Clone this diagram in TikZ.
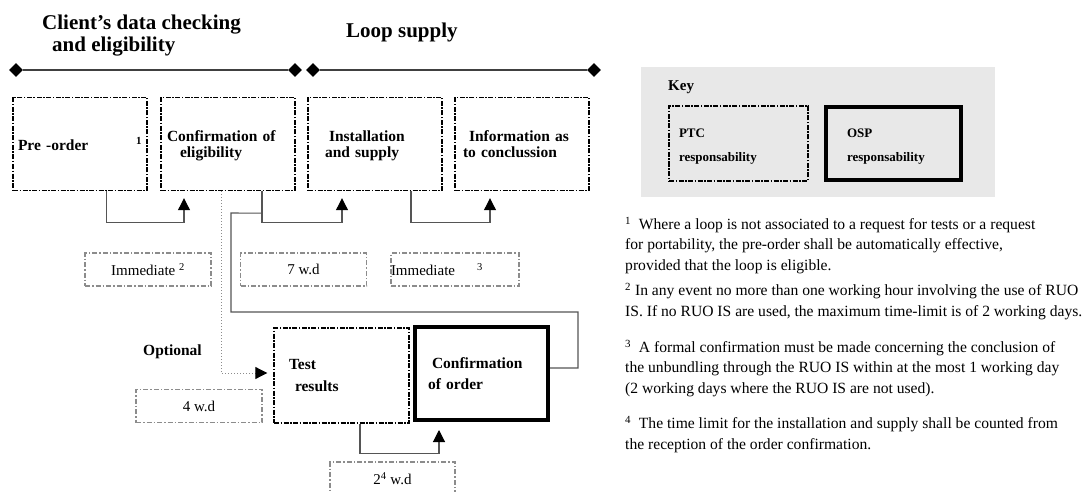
\documentclass[tikz,border=0pt]{standalone}
\usepackage{fontspec}
\setmainfont{Liberation Serif}
\usetikzlibrary{arrows.meta,shapes.geometric,calc}
\definecolor{keygrey}{HTML}{E8E8E8}
\definecolor{linegrey}{HTML}{555555}
\definecolor{boxgrey}{HTML}{8C8C8C}
\tikzset{
  ptc/.style={draw, dash pattern=on 5pt off 1.5pt on 1.5pt off 1.5pt, line width=1.4pt, minimum width=134pt, minimum height=93pt, inner sep=0pt, align=left, font=\fontsize{15.5}{16}\selectfont\bfseries},
  osp/.style={draw, line width=4pt, minimum width=133pt, minimum height=93pt, inner sep=0pt, align=left, font=\fontsize{15.5}{21}\selectfont\bfseries},
  timebox/.style={draw=boxgrey, dash pattern=on 5pt off 2pt on 1.5pt off 2pt, line width=1.2pt, minimum width=126pt, minimum height=33pt, inner sep=0pt, font=\fontsize{15}{17}\selectfont},
  milestone/.style={diamond, fill=black, minimum width=14pt, minimum height=14pt, inner sep=0pt},
  title/.style={font=\fontsize{21}{22}\selectfont\bfseries, align=left, inner sep=0pt, anchor=base west},
  fn/.style={font=\fontsize{15.6}{20.3}\selectfont, align=left, inner sep=0pt, anchor=base west},
  link/.style={linegrey, line width=1.1pt},
  dotlink/.style={boxgrey, line width=1pt, dotted},
  tip/.style={-{Triangle[length=12pt,width=12pt,color=black]}, shorten >=7pt}
}
\begin{document}
\begin{tikzpicture}[x=1pt,y=-1pt]
\useasboundingbox (0,0) rectangle (1085,492);
\node[title] (phase1) at (42,52) {Client’s data checking\\\hspace*{10pt}and eligibility};
\node[title] (phase2) at (346,38) {Loop supply};
\node[milestone] (d1) at (16,70) {};
\node[milestone] (d2) at (295,70) {};
\node[milestone] (d3) at (313,70) {};
\node[milestone] (d4) at (594,70) {};
\draw[black!75, line width=1.4pt] (d1) -- (d2);
\draw[black!75, line width=1.4pt] (d3) -- (d4);
\node[ptc, text width=124pt] (1) at (80,144) {Pre -order\hfill\textsuperscript{1}};
\node[ptc, text width=122pt, text depth=15pt] (2) at (228,144) {Confirmation of\\\hspace*{13pt}eligibility};
\node[ptc, text width=100pt, text depth=15pt] (3) at (375,144) {\hspace*{4pt}Installation\\and supply};
\node[ptc, text width=118pt, text depth=15pt] (4) at (522,144) {\hspace*{6pt}Information as\\to conclussion};
\node[ptc, text width=105pt, minimum width=135pt, minimum height=95pt, font=\fontsize{15.5}{22}\selectfont\bfseries] (5) at (341.5,375.5) {Test\\\hspace*{6pt}results};
\node[osp, text width=107pt] (6) at (481.5,373.5) {\hspace*{4pt}Confirmation\\of order};
\node[timebox] (t1) at (148,269.5) {Immediate \textsuperscript{2}};
\node[timebox] (t2) at (303.5,269.5) {7 w.d};
\node[timebox, text width=128pt, align=left] (t3) at (455,269.5) {Immediate\hspace{22pt}\textsuperscript{3}};
\node[timebox] (t4) at (199,406) {4 w.d};
\node[timebox, minimum width=125pt, minimum height=34pt] (t5) at (392.5,479) {2\textsuperscript{4} w.d};
\node[font=\fontsize{15.5}{17}\selectfont\bfseries, anchor=base west, inner sep=0pt] (opt) at (143,355) {Optional};
\draw[link, tip] ([xshift=26.5pt]1.south) -- ++(0,31) -| ([xshift=-44pt]2.south);
\draw[link, tip] ([xshift=34pt]2.south) -- ++(0,31) -| ([xshift=-33pt]3.south);
\draw[link, tip] ([xshift=36pt]3.south) -- ++(0,31) -| ([xshift=-32pt]4.south);
\draw[link] ([yshift=5.5pt]6.east) -| (578,312) -| (231,213) -- ([xshift=34pt,yshift=-22pt]2.south);
\draw[dotlink, tip, shorten >=6pt] ([xshift=-7pt]2.south) |- ([yshift=2.5pt]5.west);
\draw[link, tip, shorten >=8pt] ([xshift=18.5pt]5.south) -- ++(0,30) -| ([xshift=-42.5pt]6.south);
% key
\fill[keygrey] (641,67) rectangle (995,197);
\node[font=\fontsize{15}{17}\selectfont\bfseries, anchor=base west, inner sep=0pt] (key) at (668,91) {Key};
\node[ptc, minimum width=139pt, minimum height=75pt, text width=119pt, text depth=21pt, font=\fontsize{13}{24}\selectfont\bfseries] (k1) at (738.5,143.5) {PTC\\responsability};
\node[osp, minimum width=135pt, minimum height=73pt, text width=93pt, text depth=21pt, font=\fontsize{13}{24}\selectfont\bfseries] (k2) at (893.5,143.5) {OSP\\responsability};
% notes
\node[fn] (n1) at (625,270) {\textsuperscript{1}\ \ Where a loop is not associated to a request for tests or a request\\for portability, the pre-order shall be automatically effective,\\provided that the loop is eligible.};
\node[fn] (n2) at (625,316) {\textsuperscript{2} In any event no more than one working hour involving the use of RUO\\IS. If no RUO IS are used, the maximum time-limit is of 2 working days.};
\node[fn] (n3) at (625,393) {\textsuperscript{3}\ \ A formal confirmation must be made concerning the conclusion of\\the unbundling through the RUO IS within at the most 1 working day\\(2 working days where the RUO IS are not used).};
\node[fn] (n4) at (625,449) {\textsuperscript{4}\ \ The time limit for the installation and supply shall be counted from\\the reception of the order confirmation.};
\end{tikzpicture}
\end{document}
